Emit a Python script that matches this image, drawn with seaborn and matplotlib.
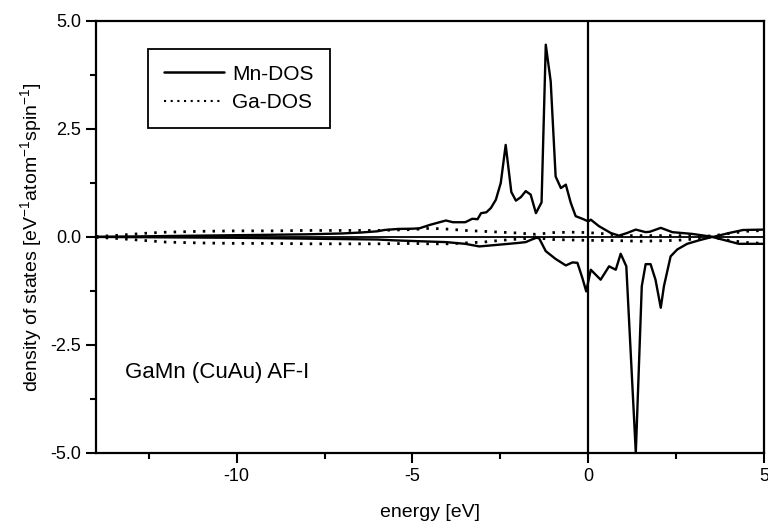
import matplotlib
matplotlib.use("Agg")
import matplotlib.pyplot as plt
import seaborn as sns
from matplotlib.lines import Line2D
from matplotlib.ticker import MultipleLocator, FormatStrFormatter

# Mn spin-up / spin-down DOS
mn_up_e = [-14, -13, -12, -11, -10, -9, -8, -7, -6.5, -6, -5.8, -5.4, -5.0, -4.8,
           -4.5, -4.05, -3.85, -3.5, -3.3, -3.15, -3.05, -2.9, -2.77, -2.63, -2.49,
           -2.35, -2.19, -2.06, -1.92, -1.78, -1.64, -1.49, -1.33, -1.21, -1.07,
           -0.93, -0.78, -0.64, -0.5, -0.36, -0.17, 0.0, 0.07, 0.3, 0.64, 0.87,
           1.1, 1.35, 1.63, 1.75, 2.06, 2.39, 2.95, 3.55, 4.0, 4.4, 5.0]
mn_up = [0.0, 0.01, 0.02, 0.03, 0.04, 0.05, 0.06, 0.08, 0.1, 0.13, 0.16, 0.185,
         0.19, 0.2, 0.28, 0.38, 0.34, 0.34, 0.42, 0.41, 0.55, 0.57, 0.67, 0.86,
         1.25, 2.13, 1.04, 0.84, 0.92, 1.06, 0.98, 0.55, 0.8, 4.45, 3.6, 1.4,
         1.13, 1.21, 0.79, 0.48, 0.42, 0.36, 0.4, 0.25, 0.09, 0.03, 0.09, 0.17,
         0.11, 0.12, 0.21, 0.11, 0.07, 0.0, 0.09, 0.16, 0.17]

mn_dn_e = [-14, -12, -10, -8, -7, -6, -5.5, -4.8, -4.05, -3.5, -3.1, -2.54, -2.0,
           -1.78, -1.49, -1.4, -1.21, -0.93, -0.64, -0.45, -0.31, -0.17, -0.06,
           0.07, 0.35, 0.59, 0.78, 0.92, 1.08, 1.35, 1.52, 1.63, 1.77, 1.91, 2.06,
           2.15, 2.34, 2.53, 2.81, 3.14, 3.52, 3.9, 4.28, 4.73, 5.0]
mn_dn = [0.0, -0.01, -0.02, -0.04, -0.05, -0.06, -0.08, -0.1, -0.12, -0.16, -0.22,
         -0.18, -0.14, -0.12, -0.02, -0.03, -0.33, -0.51, -0.66, -0.59, -0.6,
         -0.95, -1.26, -0.76, -0.99, -0.68, -0.76, -0.39, -0.68, -5.0, -1.14,
         -0.63, -0.63, -0.99, -1.64, -1.14, -0.45, -0.29, -0.16, -0.08, 0.0,
         -0.08, -0.16, -0.16, -0.16]

# Ga spin-up / spin-down DOS
ga_e = [-14, -13.5, -13, -12.5, -12, -11, -10, -9, -8, -7, -6, -5, -4.5, -4,
        -3.5, -3, -2.5, -2, -1.5, -1, -0.5, 0, 0.5, 1, 1.5, 2, 2.5, 3, 3.5, 4,
        4.5, 5]
ga_up = [0.01, 0.03, 0.06, 0.09, 0.11, 0.13, 0.14, 0.14, 0.15, 0.15, 0.15, 0.17,
         0.2, 0.18, 0.15, 0.13, 0.11, 0.09, 0.06, 0.1, 0.11, 0.1, 0.07, 0.03,
         0.03, 0.03, 0.03, 0.03, 0.02, 0.08, 0.13, 0.15]
ga_dn = [-0.01, -0.03, -0.06, -0.09, -0.12, -0.14, -0.15, -0.15, -0.16, -0.16,
         -0.16, -0.15, -0.16, -0.16, -0.14, -0.12, -0.08, -0.05, -0.02, -0.06,
         -0.07, -0.08, -0.08, -0.09, -0.1, -0.09, -0.08, -0.05, 0.0, -0.08,
         -0.13, -0.15]

sns.set_theme(style="ticks")
plt.rcParams["font.family"] = ["Liberation Sans", "DejaVu Sans"]
plt.rcParams["axes.unicode_minus"] = False
plt.rcParams["text.color"] = "black"
plt.rcParams["axes.labelcolor"] = "black"

fig = plt.figure(figsize=(7.68, 5.23), dpi=100)
ax = fig.add_axes([0.125, 0.134, 0.87, 0.826])

dotted = (0, (0.9, 2.6))
for e, d in [(mn_up_e, mn_up), (mn_dn_e, mn_dn)]:
    sns.lineplot(x=e, y=d, ax=ax, color="black", lw=1.7, sort=False,
                 estimator=None)
for d in [ga_up, ga_dn]:
    sns.lineplot(x=ga_e, y=d, ax=ax, color="black", lw=2.0, sort=False,
                 estimator=None, linestyle=dotted)

ax.axhline(0, color="black", lw=1.3, zorder=0)
ax.axvline(0, color="black", lw=1.6)

ax.set_xlim(-14, 5)
ax.set_ylim(-5, 5)
ax.xaxis.set_major_locator(MultipleLocator(5))
ax.xaxis.set_minor_locator(MultipleLocator(2.5))
ax.yaxis.set_major_locator(MultipleLocator(2.5))
ax.yaxis.set_minor_locator(MultipleLocator(1.25))
ax.yaxis.set_major_formatter(FormatStrFormatter("%.1f"))
ax.tick_params(which="major", direction="out", length=7, width=1.5,
               labelsize=13, colors="black")
ax.tick_params(which="minor", direction="out", length=4, width=1.5,
               colors="black")
for s in ax.spines.values():
    s.set_color("black")
    s.set_linewidth(1.6)

ax.set_xlabel("energy [eV]", fontsize=14, labelpad=14)
ax.set_ylabel(r"density of states [eV$^{\mathregular{-1}}$atom$^{\mathregular{-1}}$spin$^{\mathregular{-1}}$]",
              fontsize=14)

handles = [Line2D([], [], color="black", lw=1.8, label="Mn-DOS"),
           Line2D([], [], color="black", lw=1.5, linestyle=(0, (1.0, 2.2)),
                  label="Ga-DOS")]
leg = ax.legend(handles=handles, loc="upper left", bbox_to_anchor=(0.078, 0.935),
                borderaxespad=0, fontsize=15, frameon=True, fancybox=False,
                framealpha=1, edgecolor="black", handlelength=2.9,
                borderpad=0.75, labelspacing=0.45, handletextpad=0.4)
leg.get_frame().set_linewidth(1.3)

ax.text(0.043, 0.185, "GaMn (CuAu) AF-I", transform=ax.transAxes,
        fontsize=16, va="center", ha="left", color="black")

fig.savefig("out.png", dpi=100)
